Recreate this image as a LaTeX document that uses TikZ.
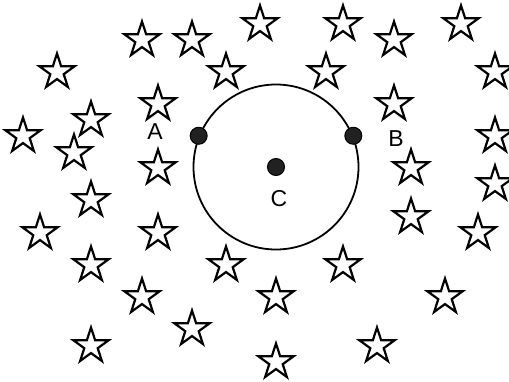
\documentclass[tikz,border=0pt]{standalone}
\usepackage{fontspec}
\setmainfont{Liberation Sans}
\usetikzlibrary{shapes.geometric}

\tikzset{
  starmark/.style={star, star points=5, star point ratio=2.618, draw, line width=2.2pt,
    line join=miter, minimum size=37pt, inner sep=0pt, fill=white},
  pointmark/.style={circle, draw, line width=1pt, fill=black!87, minimum size=17pt, inner sep=0pt},
  ptlabel/.style={font=\fontsize{23}{23}\selectfont, inner sep=0pt}
}

\begin{document}
\begin{tikzpicture}[x=1pt, y=-1pt]
            \useasboundingbox (0,0) rectangle (509,381);

            % stars all around
            \foreach \sx/\sy [count=\i] in {142/40, 192/40, 260/24, 343/24, 394/40, 461/24,
                57/72, 226/72, 326/72, 495/72, 158/104, 91/120, 394/104,
                23/136, 74/153, 158/168, 495/136, 411/168, 495/184,
                91/200, 411/217, 40/233, 158/233, 478/233,
                91/265, 226/265, 343/265, 142/297, 276/297, 445/297,
                192/329, 91/346, 377/346, 276/362}
              \node[starmark] (star\i) at (\sx,\sy) {};

            % the circle with its points
            \node[circle, draw, line width=1.8pt, minimum size=165pt, inner sep=0pt] (circ) at (276,167) {};
            \node[pointmark] (dotA) at (circ.158) {};
            \node[pointmark] (dotB) at (circ.22) {};
            \node[pointmark] (dotC) at (circ.center) {};

            \node[ptlabel] (A) at (155,132) {A};
            \node[ptlabel] (B) at (396,139) {B};
            \node[ptlabel] (C) at (279,199) {C};
\end{tikzpicture}
\end{document}
